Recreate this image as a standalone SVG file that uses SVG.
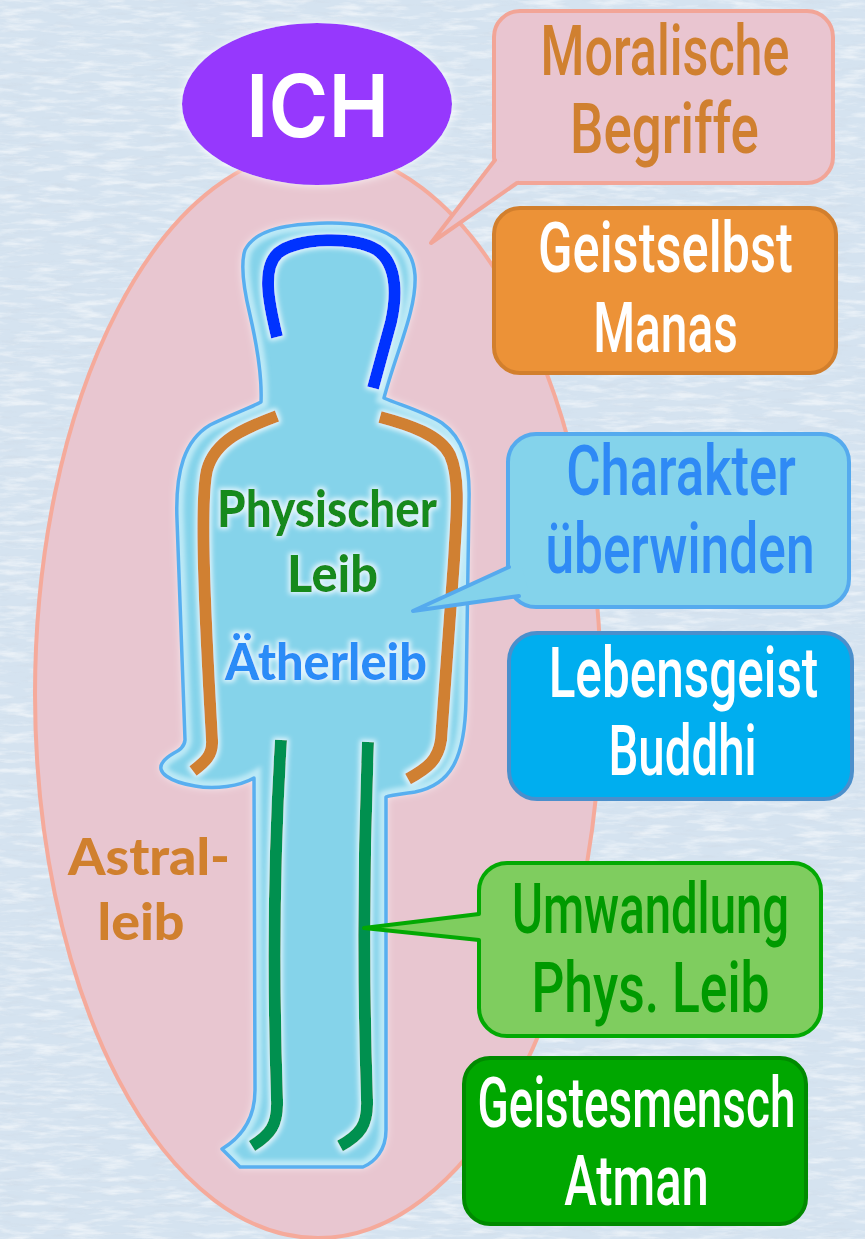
<svg xmlns="http://www.w3.org/2000/svg" width="865" height="1239" viewBox="0 0 865 1239">
  <defs>
    <style>
      .box-text { font-family: Roboto, "Liberation Sans", sans-serif; font-weight: 500; font-size: 70px; text-anchor: middle; }
      .body-text { font-family: Lato, "Open Sans", "Liberation Sans", sans-serif; font-weight: 900; font-size: 51px; text-anchor: middle; }
      .box { stroke-width: 4; }
      .tail-edge { fill: none; stroke-width: 4; stroke-linejoin: round; stroke-linecap: round; }
      .limb { fill: none; stroke-width: 12; stroke-linecap: butt; stroke-linejoin: round; }
    </style>

    <!-- paper texture for the backdrop -->
    <filter id="paperLight" x="0" y="0" width="100%" height="100%">
      <feTurbulence type="fractalNoise" baseFrequency="0.03 0.16" numOctaves="4" seed="7" result="n"/>
      <feColorMatrix in="n" type="matrix" values="0 0 0 0 1  0 0 0 0 1  0 0 0 0 1  3 0 0 0 -1.4"/>
    </filter>
    <filter id="paperDark" x="0" y="0" width="100%" height="100%">
      <feTurbulence type="fractalNoise" baseFrequency="0.04 0.25" numOctaves="3" seed="21" result="n"/>
      <feColorMatrix in="n" type="matrix" values="0 0 0 0 0.62  0 0 0 0 0.68  0 0 0 0 0.76  3 0 0 0 -1.6"/>
    </filter>

    <!-- soft white halo behind shapes and labels -->
    <filter id="halo" x="-20%" y="-30%" width="140%" height="160%">
      <feMorphology in="SourceAlpha" operator="dilate" radius="1.5" result="d"/>
      <feGaussianBlur in="d" stdDeviation="2.5" result="b"/>
      <feFlood flood-color="#eefaff" flood-opacity="0.9"/>
      <feComposite in2="b" operator="in" result="g"/>
      <feMerge><feMergeNode in="g"/><feMergeNode in="SourceGraphic"/></feMerge>
    </filter>
    <filter id="outerGlow" x="-20%" y="-20%" width="140%" height="140%">
      <feGaussianBlur in="SourceAlpha" stdDeviation="4" result="b"/>
      <feFlood flood-color="#ffffff" flood-opacity="0.85"/>
      <feComposite in2="b" operator="in" result="g"/>
      <feMerge><feMergeNode in="g"/><feMergeNode in="SourceGraphic"/></feMerge>
    </filter>
    <filter id="soft" x="-10%" y="-10%" width="120%" height="120%">
      <feGaussianBlur stdDeviation="2"/>
    </filter>

    <path id="bodyShape" d="M 327,223
      C 372,222 412,234 415,275
      C 417,310 395,355 384,398
      C 400,405 425,412 442,423
      C 463,438 470,462 469,500
      L 466,700
      C 465,760 450,785 415,792
      C 400,794 390,795 386,797
      L 386,1130
      C 386,1150 375,1162 363,1167
      L 240,1167
      L 222,1149
      C 245,1135 255,1115 255,1090
      L 254,778
      C 240,786 215,790 195,786
      C 170,782 155,772 163,762
      C 170,752 184,752 185,740
      L 177,520
      C 175,470 185,440 210,425
      C 230,415 250,408 261,402
      C 262,380 258,350 250,315
      C 244,290 240,265 245,250
      C 256,228 290,224 327,223 Z"/>
    <clipPath id="bodyClip"><use href="#bodyShape"/></clipPath>
  </defs>

  <!-- backdrop -->
  <rect width="865" height="1239" fill="#d5e3f0"/>
  <rect width="865" height="1239" filter="url(#paperDark)" opacity="0.3"/>
  <rect width="865" height="1239" filter="url(#paperLight)" opacity="0.5"/>

  <!-- astral body -->
  <g id="astralleib">
    <ellipse cx="318" cy="694" rx="283" ry="544" fill="#e8c6d0" stroke="#f5aa9b" stroke-width="4"/>
    <text class="body-text" x="149" y="875" font-size="60" font-weight="800" fill="#d0802e" textLength="162" lengthAdjust="spacingAndGlyphs">Astral-</text>
    <text class="body-text" x="141" y="940" font-size="60" font-weight="800" fill="#d0802e" textLength="87" lengthAdjust="spacingAndGlyphs">leib</text>
  </g>

  <!-- ego -->
  <g id="ich" filter="url(#outerGlow)">
    <ellipse cx="317" cy="104" rx="135" ry="81" fill="#9638fd"/>
    <text x="317.5" y="137" font-family="Inter, 'Liberation Sans', sans-serif" font-weight="600" font-size="86" fill="#ffffff" text-anchor="middle" textLength="143" lengthAdjust="spacingAndGlyphs">ICH</text>
  </g>

  <!-- physical and etheric body -->
  <g id="koerper">
    <use href="#bodyShape" fill="#85d3ea" filter="url(#outerGlow)"/>
    <g clip-path="url(#bodyClip)">
      <use href="#bodyShape" fill="none" stroke="#bce9f6" stroke-width="14" filter="url(#soft)"/>
    </g>
    <use href="#bodyShape" fill="none" stroke="#58aff0" stroke-width="3.5" stroke-linejoin="round"/>

    <g filter="url(#halo)">
      <path class="limb" stroke="#0033ff" d="M 277,337 C 268,300 262,268 278,253 C 298,237 355,236 377,250 C 399,265 396,300 391,322 L 373,388"/>
      <path class="limb" stroke="#d08030" d="M 277,416 C 245,428 215,440 207,470 C 200,500 204,600 212,740 C 213,755 205,762 193,771"/>
      <path class="limb" stroke="#d08030" d="M 380,417 C 410,425 440,435 450,455 C 461,480 456,520 454,560 L 441,740 C 438,760 428,768 408,779"/>
      <path class="limb" stroke="#009050" d="M 281,740 C 276,820 272,950 277,1100 C 278,1125 270,1135 252,1146"/>
      <path class="limb" stroke="#009050" d="M 368,742 C 365,820 362,950 367,1100 C 368,1125 360,1135 340,1146"/>
    </g>

    <g filter="url(#halo)">
      <text class="body-text" x="327" y="527" fill="#138a1f" textLength="220" lengthAdjust="spacingAndGlyphs">Physischer</text>
      <text class="body-text" x="332.5" y="592" fill="#138a1f" textLength="91" lengthAdjust="spacingAndGlyphs">Leib</text>
      <text class="body-text" x="326" y="680" fill="#2a8cf7" textLength="202" lengthAdjust="spacingAndGlyphs">Ätherleib</text>
    </g>
  </g>

  <!-- callouts and higher members; narrow lettering is the regular face squeezed sideways -->
  <g id="moralische-begriffe">
    <rect class="box" x="494" y="11" width="339" height="172" rx="26" fill="#e9c5d0" stroke="#f2a597"/>
    <text class="box-text" transform="translate(665,75) scale(0.7176,1)" fill="#d08030">Moralische</text>
    <text class="box-text" transform="translate(664.5,153) scale(0.755,1)" fill="#d08030">Begriffe</text>
  </g>

  <g id="geistselbst">
    <rect class="box" x="494" y="208" width="342" height="165" rx="26" fill="#ec9237" stroke="#d27f2d"/>
    <text class="box-text" transform="translate(665.5,272) scale(0.7233,1)" fill="#ffffff">Geistselbst</text>
    <text class="box-text" transform="translate(665.5,352) scale(0.6836,1)" fill="#ffffff">Manas</text>
  </g>

  <g id="charakter">
    <rect class="box" x="508" y="434" width="341" height="173" rx="28" fill="#84d3eb" stroke="#55aaee"/>
    <text class="box-text" transform="translate(681,495) scale(0.7512,1)" fill="#2f8af5">Charakter</text>
    <text class="box-text" transform="translate(680,573) scale(0.7361,1)" fill="#2f8af5">überwinden</text>
  </g>

  <g id="lebensgeist">
    <rect class="box" x="509" y="633" width="343" height="166" rx="28" fill="#00aeef" stroke="#4a8fcc"/>
    <text class="box-text" transform="translate(683.5,697) scale(0.7072,1)" fill="#ffffff">Lebensgeist</text>
    <text class="box-text" transform="translate(682.5,775) scale(0.6777,1)" fill="#ffffff">Buddhi</text>
  </g>

  <g id="umwandlung">
    <rect class="box" x="479" y="863" width="342" height="173" rx="28" fill="#7fcd5f" stroke="#03a903"/>
    <text class="box-text" transform="translate(650.5,933) scale(0.6754,1)" fill="#009a00">Umwandlung</text>
    <text class="box-text" transform="translate(650.5,1012) scale(0.7371,1)" fill="#009a00">Phys. Leib</text>
  </g>

  <g id="geistesmensch">
    <rect class="box" x="464" y="1058" width="342" height="166" rx="26" fill="#00a700" stroke="#008a00"/>
    <text class="box-text" transform="translate(636.5,1127) scale(0.6559,1)" fill="#ffffff">Geistesmensch</text>
    <text class="box-text" transform="translate(636.5,1205) scale(0.6997,1)" fill="#ffffff">Atman</text>
  </g>

  <!-- callout tails pointing into the figure -->
  <g id="connectors">
    <polygon points="431,243 495,160 508,162 520,174 517,183" fill="#e9c5d0"/>
    <polyline class="tail-edge" points="495,160 431,243 517,183" stroke="#f2a597"/>

    <polygon points="413,611 509,567 522,567 528,590 519,596" fill="#84d3eb"/>
    <polyline class="tail-edge" points="509,567 413,611 519,596" stroke="#55aaee"/>

    <polygon points="364,928 479,914 492,914 492,940 479,940" fill="#7fcd5f"/>
    <polyline class="tail-edge" points="479,914 364,928 479,940" stroke="#03a903"/>
  </g>
</svg>
